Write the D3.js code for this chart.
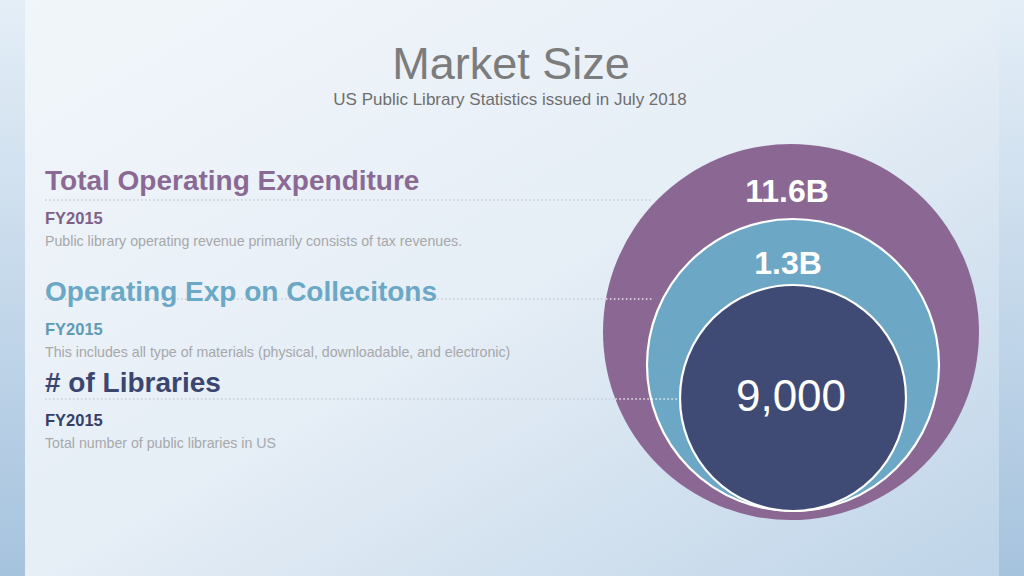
<!DOCTYPE html>
<html>
<head>
<meta charset="utf-8">
<script src="https://cdn.jsdelivr.net/npm/d3@7/dist/d3.min.js"></script>
<style>
  html, body { margin: 0; padding: 0; background: #dbe7f2; }
  svg { display: block; font-family: "Liberation Sans", Arial, sans-serif; }
</style>
</head>
<body>
<svg id="chart" width="1024" height="576"></svg>
<script>
// ---- data ----
const title = "Market Size";
const subtitle = "US Public Library Statistics issued in July 2018";
const categories = ["Total Operating Expenditure", "Operating Exp on Collecitons", "# of Libraries"];
const valueLabels = ["11.6B", "1.3B", "9,000"];
const years = ["FY2015", "FY2015", "FY2015"];
const descriptions = [
  "Public library operating revenue primarily consists of tax revenues.",
  "This includes all type of materials (physical, downloadable, and electronic)",
  "Total number of public libraries in US"
];

// ---- styles / layout ----
const W = 1024, H = 576;
const colors = d3.scaleOrdinal(categories, ["#8b6893", "#6ca8c5", "#3f4b75"]);
const textColors = d3.scaleOrdinal(categories, ["#8a6a94", "#6aa8c6", "#3b4670"]);
const radius = d3.scaleOrdinal(categories, [188, 146, 113]);
const bottomY = d3.scaleOrdinal(categories, [520, 511, 511]);
const centerX = d3.scaleOrdinal(categories, [791, 793, 793]);
const headY = d3.scaleOrdinal(categories, [190, 301, 392]);
const lineY = d3.scaleOrdinal(categories, [200, 299, 399]);
const lineEnd = d3.scaleOrdinal(categories, [652, 652, 677]);
const labelX = d3.scaleOrdinal(categories, [787, 788, 791]);
const labelY = d3.scaleOrdinal(categories, [202, 274, 411]);
const labelSize = d3.scaleOrdinal(categories, [32, 32, 44]);
const labelWeight = d3.scaleOrdinal(categories, ["bold", "bold", "normal"]);

const svg = d3.select("#chart");
const defs = svg.append("defs");

const gOuter = defs.append("linearGradient").attr("id", "outerBg")
  .attr("x1", 0).attr("y1", 0).attr("x2", 0).attr("y2", 1);
gOuter.append("stop").attr("offset", 0).attr("stop-color", "#e4eef7");
gOuter.append("stop").attr("offset", 1).attr("stop-color", "#a6c3de");

const gPanel = defs.append("linearGradient").attr("id", "panelBg")
  .attr("x1", 0).attr("y1", 0).attr("x2", 1).attr("y2", 1);
gPanel.append("stop").attr("offset", 0).attr("stop-color", "#f1f6fa");
gPanel.append("stop").attr("offset", 0.5).attr("stop-color", "#e6eef6");
gPanel.append("stop").attr("offset", 1).attr("stop-color", "#bed4e8");

svg.append("rect").attr("width", W).attr("height", H).attr("fill", "url(#outerBg)");
svg.append("rect").attr("x", 25).attr("y", 0).attr("width", 974).attr("height", H).attr("fill", "url(#panelBg)");

// title
svg.append("text").attr("x", 511).attr("y", 79).attr("text-anchor", "middle")
  .attr("font-size", 45).attr("fill", "#7c7c7c").text(title);
svg.append("text").attr("x", 510).attr("y", 105).attr("text-anchor", "middle")
  .attr("font-size", 17).attr("fill", "#6f6f6f").text(subtitle);

// left-side dotted guide lines (gray portion)
const outerCat = categories[0];
const ocx = centerX(outerCat), ocy = bottomY(outerCat) - radius(outerCat), orr = radius(outerCat);
function outerEdge(y) {
  const dy = y - ocy;
  return ocx - Math.sqrt(Math.max(0, orr * orr - dy * dy));
}
svg.append("g").selectAll("line").data(categories).join("line")
  .attr("x1", 45).attr("x2", d => Math.min(lineEnd(d), outerEdge(lineY(d))))
  .attr("y1", d => lineY(d)).attr("y2", d => lineY(d))
  .attr("stroke", "#c6cbd2").attr("stroke-width", 1.5).attr("stroke-dasharray", "1.5,2.5");

// text blocks
const blocks = svg.append("g").selectAll("g").data(categories).join("g");
blocks.append("text").attr("x", 45).attr("y", d => headY(d))
  .attr("font-size", 28).attr("font-weight", "bold").attr("fill", d => textColors(d)).text(d => d);
blocks.append("text").attr("x", 45).attr("y", (d) => headY(d) + 34)
  .attr("font-size", 16.5).attr("font-weight", "bold").attr("fill", d => d3.color(textColors(d)).darker(0.25))
  .text((d, i) => years[i]);
blocks.append("text").attr("x", 45).attr("y", (d) => headY(d) + 56)
  .attr("font-size", 14.2).attr("fill", "#a6a8ab")
  .text((d, i) => descriptions[i]);

// circles
svg.append("g").selectAll("circle").data(categories).join("circle")
  .attr("cx", d => centerX(d)).attr("cy", d => bottomY(d) - radius(d)).attr("r", d => radius(d))
  .attr("fill", d => colors(d))
  .attr("stroke", (d, i) => i === 0 ? "none" : "#ffffff").attr("stroke-width", 2.2);

// white dotted portion over circles
svg.append("g").selectAll("line").data(categories.filter(d => outerEdge(lineY(d)) < lineEnd(d))).join("line")
  .attr("x1", d => outerEdge(lineY(d))).attr("x2", d => lineEnd(d))
  .attr("y1", d => lineY(d)).attr("y2", d => lineY(d))
  .attr("stroke", "#ffffff").attr("stroke-opacity", 0.85).attr("stroke-width", 1.5).attr("stroke-dasharray", "1.5,2.5");

// value labels
svg.append("g").selectAll("text").data(categories).join("text")
  .attr("x", d => labelX(d)).attr("y", d => labelY(d)).attr("text-anchor", "middle")
  .attr("font-size", d => labelSize(d)).attr("font-weight", d => labelWeight(d))
  .attr("fill", "#ffffff").text((d, i) => valueLabels[i]);
</script>
</body>
</html>
